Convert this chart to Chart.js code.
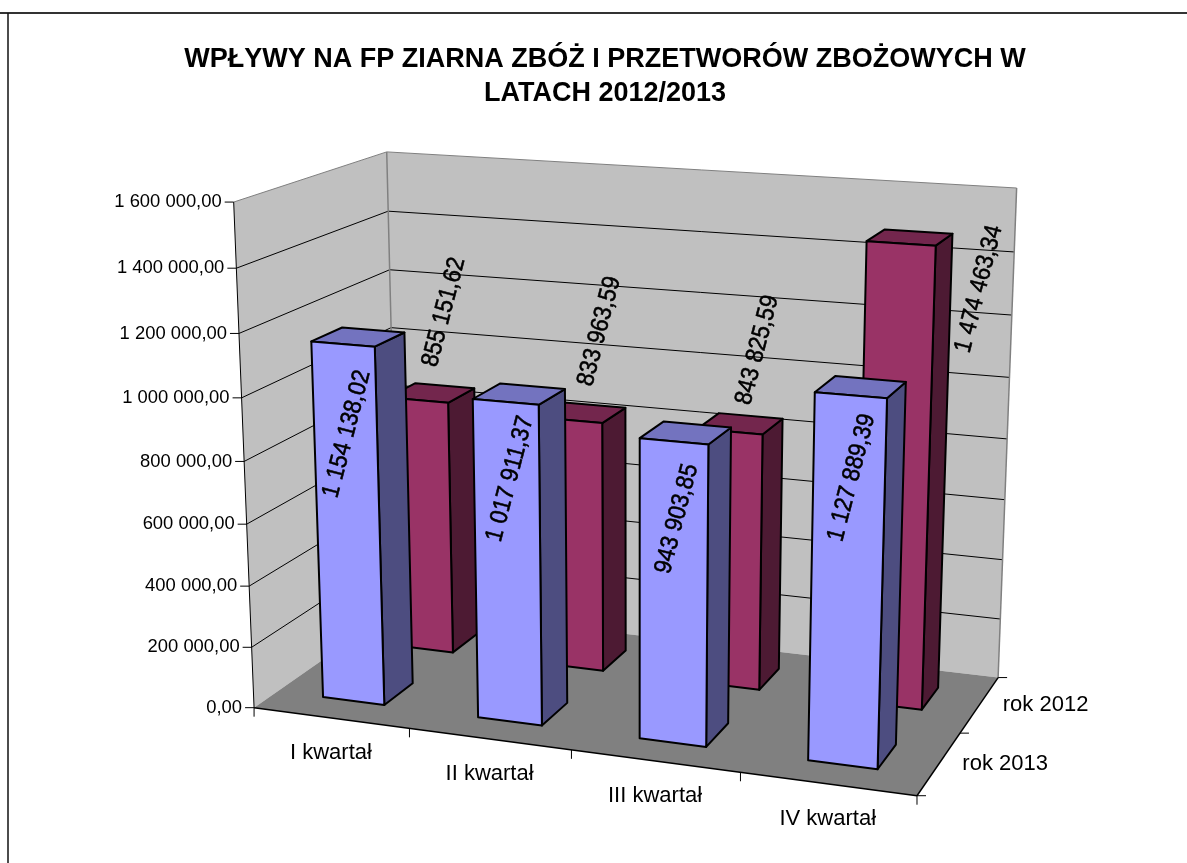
<!DOCTYPE html>
<html lang="pl">
<head>
<meta charset="utf-8">
<title>Wpływy na FP</title>
<style>html,body{margin:0;padding:0;background:#fff;overflow:hidden}canvas{display:block}</style>
<script src="https://cdn.jsdelivr.net/npm/chart.js@4/dist/chart.umd.js"></script>
</head>
<body>
<canvas id="c" width="1187" height="863"></canvas>
<script>
const titleLines = ['WPŁYWY NA FP ZIARNA ZBÓŻ I PRZETWORÓW ZBOŻOWYCH W', 'LATACH 2012/2013'];
const categories = ['I kwartał', 'II kwartał', 'III kwartał', 'IV kwartał'];
const seriesNames = ['rok 2013', 'rok 2012'];
const values2013 = [1154138.02, 1017911.37, 943903.85, 1127889.39];
const values2012 = [855151.62, 833963.59, 843825.59, 1474463.34];
const axisMax = 1600000;
const axisStep = 200000;

// Style: the box of the 3D view, as [u, v, w] -> [px, py]
const boxAnchors = [
  [0,0,0, 254.3,707.7],[1,0,0, 916.7,796.7],[0,1,0, 233.5,201.7],[0,0,1, 398,608],
  [1,0,1, 998.3,676.7],[0,1,1, 386.7,152.3],[1,1,1, 1016.7,188.3],
  [0.25,0,0, 409.3,727.7],[1,0,0.5, 960,733],[0,0.875,1, 388,210.7],[0,0.875,0, 236.7,268.3]
];
const rowDepth = [[0.15,0.35],[0.65,0.85]];
const faceColors = [
  {front:'#9999FF', side:'#4D4D80', top:'#7373BF'},
  {front:'#993366', side:'#4D1A33', top:'#73264D'}
];
// Style: where each value label sits relative to the top of its bar
const labelOffset = [
  [[4,90],[4.5,77],[3,77.5],[1,82.5]],
  [[26,-88],[28.5,-89],[27.5,-81.5],[78,45.5]]
];
const FONT = '"Liberation Sans", Arial, sans-serif';

function solve(A, b){
  const n = b.length, M = A.map((r,i)=>[...r,b[i]]);
  for(let c=0;c<n;c++){
    let p=c; for(let r=c+1;r<n;r++) if(Math.abs(M[r][c])>Math.abs(M[p][c])) p=r;
    [M[c],M[p]]=[M[p],M[c]];
    for(let r=0;r<n;r++){ if(r===c) continue; const f=M[r][c]/M[c][c]; for(let k=c;k<=n;k++) M[r][k]-=f*M[c][k]; }
  }
  return M.map((r,i)=>r[n]/r[i]);
}
const H = (function(){
  const rows=[], rhs=[];
  boxAnchors.forEach(([u,v,w,x,y])=>{
    rows.push([u,v,w,1,0,0,0,0,-x*u,-x*v,-x*w]); rhs.push(x);
    rows.push([0,0,0,0,u,v,w,1,-y*u,-y*v,-y*w]); rhs.push(y);
  });
  const n=11, A=Array.from({length:n},()=>new Array(n).fill(0)), b=new Array(n).fill(0);
  rows.forEach((r,i)=>{ for(let a=0;a<n;a++){ b[a]+=r[a]*rhs[i]; for(let c=0;c<n;c++) A[a][c]+=r[a]*r[c]; } });
  return solve(A,b);
})();
function P(u,v,w){
  const d=H[8]*u+H[9]*v+H[10]*w+1;
  return [(H[0]*u+H[1]*v+H[2]*w+H[3])/d,(H[4]*u+H[5]*v+H[6]*w+H[7])/d];
}
function poly(ctx,pts,fill,stroke,lw){
  ctx.beginPath(); pts.forEach((p,i)=>i?ctx.lineTo(p[0],p[1]):ctx.moveTo(p[0],p[1])); ctx.closePath();
  if(fill){ctx.fillStyle=fill;ctx.fill();}
  if(stroke){ctx.strokeStyle=stroke;ctx.lineWidth=lw;ctx.lineJoin='round';ctx.stroke();}
}
function seg(ctx,a,b,color,lw){
  ctx.beginPath();ctx.moveTo(a[0],a[1]);ctx.lineTo(b[0],b[1]);ctx.strokeStyle=color;ctx.lineWidth=lw;ctx.stroke();
}
function fmt(v){
  const [i,d]=v.toFixed(2).split('.');
  return i.replace(/\B(?=(\d{3})+$)/g,' ')+','+d;
}
const uOf=(s,px)=>(px-s.left)/s.width;
const vOf=(s,py)=>(s.bottom-py)/s.height;

const view3d = {
  id:'view3d',
  beforeDraw(chart){
    const ctx=chart.ctx; ctx.save();
    ctx.fillStyle='#fff';ctx.fillRect(0,0,chart.width,chart.height);
    seg(ctx,[0,13],[chart.width,13],'#333',2);
    seg(ctx,[8,13],[8,chart.height],'#111',1.5);
    ctx.restore();
  },
  beforeDatasetsDraw(chart){
    const ctx=chart.ctx, xs=chart.scales.x, ys=chart.scales.y; ctx.save();
    poly(ctx,[P(0,0,0),P(0,1,0),P(0,1,1),P(0,0,1)],'#C0C0C0');
    poly(ctx,[P(0,0,1),P(0,1,1),P(1,1,1),P(1,0,1)],'#C0C0C0');
    poly(ctx,[P(0,0,0),P(1,0,0),P(1,0,1),P(0,0,1)],'#808080');
    ys.ticks.forEach(t=>{
      const v=vOf(ys,ys.getPixelForValue(t.value));
      const c=v>=1?'#808080':'#000';
      if(v>0){ seg(ctx,P(0,v,0),P(0,v,1),c,1); seg(ctx,P(0,v,1),P(1,v,1),c,1); }
      const a=P(0,v,0);
      seg(ctx,a,[a[0]-9,a[1]],'#000',1);
      ctx.fillStyle='#000';ctx.font='18.4px '+FONT;ctx.textAlign='right';ctx.textBaseline='middle';
      ctx.fillText(fmt(t.value),a[0]-12,a[1]);
    });
    seg(ctx,P(0,0,1),P(0,1,1),'#808080',1.5);
    seg(ctx,P(1,0,1),P(1,1,1),'#808080',1.5);
    seg(ctx,P(0,0,0),P(0,1,0),'#000',1);
    seg(ctx,P(0,0,0),P(1,0,0),'#000',1.5);
    seg(ctx,P(1,0,0),P(1,0,1),'#000',1.5);
    // category axis
    for(let i=0;i<=categories.length;i++){
      const a=P(i/categories.length,0,0);
      seg(ctx,a,[a[0],a[1]+9],'#000',1);
    }
    ctx.font='22px '+FONT;ctx.textAlign='center';ctx.textBaseline='middle';ctx.fillStyle='#000';
    xs.ticks.forEach((t,i)=>{
      const a=P(uOf(xs,xs.getPixelForTick(i)),0,0);
      ctx.fillText(categories[t.value],a[0],a[1]+35);
    });
    // depth axis
    [0,0.5,1].forEach(w=>{const a=P(1,0,w);seg(ctx,a,[a[0]+9,a[1]],'#000',1);});
    seriesNames.forEach((n,i)=>{
      const a=P(1,0,(rowDepth[i][0]+rowDepth[i][1])/2);
      ctx.fillText(n,a[0]+66,a[1]);
    });
    ctx.restore();
  },
  beforeDatasetDraw(chart,args){
    const ctx=chart.ctx, xs=chart.scales.x, ys=chart.scales.y;
    const i=args.index, [w0,w1]=rowDepth[i], col=faceColors[i];
    ctx.save();
    chart.getDatasetMeta(i).data.forEach(el=>{
      const p=el.getProps(['x','y','base','width'],true);
      const u0=uOf(xs,p.x-p.width/2), u1=uOf(xs,p.x+p.width/2), v0=vOf(ys,p.base), v1=vOf(ys,p.y);
      poly(ctx,[P(u1,v0,w0),P(u1,v1,w0),P(u1,v1,w1),P(u1,v0,w1)],col.side,'#000',2);
      poly(ctx,[P(u0,v1,w0),P(u1,v1,w0),P(u1,v1,w1),P(u0,v1,w1)],col.top,'#000',2);
      poly(ctx,[P(u0,v0,w0),P(u1,v0,w0),P(u1,v1,w0),P(u0,v1,w0)],col.front,'#000',2);
    });
    ctx.restore();
    return false;
  },
  afterDatasetsDraw(chart){
    const ctx=chart.ctx, xs=chart.scales.x, ys=chart.scales.y;
    ctx.save();
    ctx.font='22.4px '+FONT;ctx.fillStyle='#000';ctx.strokeStyle='#000';ctx.lineWidth=0.5;ctx.textAlign='center';ctx.textBaseline='middle';
    chart.data.datasets.forEach((ds,i)=>{
      const w=rowDepth[i][0];
      chart.getDatasetMeta(i).data.forEach((el,k)=>{
        const p=el.getProps(['x','y'],true);
        const a=P(uOf(xs,p.x),vOf(ys,p.y),w);
        ctx.save();
        ctx.translate(a[0]+labelOffset[i][k][0],a[1]+labelOffset[i][k][1]);
        ctx.rotate(-75.5*Math.PI/180);
        ctx.scale(1,1.1);
        ctx.fillText(fmt(ds.data[k]),0,0);
        ctx.strokeText(fmt(ds.data[k]),0,0);
        ctx.restore();
      });
    });
    ctx.restore();
  }
};

new Chart(document.getElementById('c'),{
  type:'bar',
  data:{labels:categories,datasets:[
    {label:seriesNames[0],data:values2013,backgroundColor:faceColors[0].front},
    {label:seriesNames[1],data:values2012,backgroundColor:faceColors[1].front}
  ]},
  options:{
    responsive:false,animation:false,
    layout:{padding:{left:130,right:107,top:43,bottom:60}},
    datasets:{bar:{grouped:false,barPercentage:0.4,categoryPercentage:1}},
    plugins:{
      legend:{display:false},tooltip:{enabled:false},
      title:{display:true,fullSize:false,text:titleLines,color:'#000',padding:0,
        font:{family:FONT,size:27,weight:'bold',lineHeight:1.26}}
    },
    scales:{
      x:{display:false},
      y:{display:false,min:0,max:axisMax,ticks:{stepSize:axisStep}}
    }
  },
  plugins:[view3d]
});
</script>
</body>
</html>
